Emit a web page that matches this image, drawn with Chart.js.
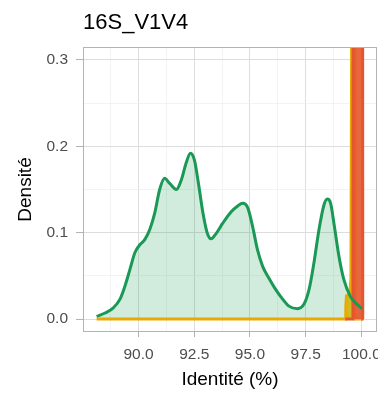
<!DOCTYPE html>
<html>
<head>
<meta charset="utf-8">
<script src="https://cdn.jsdelivr.net/npm/chart.js@4.4.1/dist/chart.umd.min.js"></script>
<style>
  html, body { margin: 0; padding: 0; background: #fff; overflow: hidden; }
  canvas { display: block; }
</style>
</head>
<body>
<canvas id="chart" width="378" height="393" style="width:378px;height:393px"></canvas>
<script>
const plotTitle = '16S_V1V4';

// green density (identity %, density)
const greenIdentite = [88.12, 88.50, 88.87, 89.17, 89.39, 89.61, 89.84, 90.06, 90.28, 90.51,
  90.73, 90.95, 91.17, 91.40, 91.70, 91.92, 92.14, 92.33, 92.51, 92.69,
  92.89, 93.08, 93.26, 93.48, 93.78, 94.15, 94.45, 94.67, 94.90, 95.12,
  95.34, 95.57, 95.86, 96.16, 96.38, 96.75, 97.13, 97.42, 97.65, 97.87,
  98.10, 98.32, 98.47, 98.62, 98.79, 98.99, 99.21, 99.51, 99.81, 100.03];
const greenDensite = [0.003, 0.007, 0.013, 0.023, 0.038, 0.057, 0.077, 0.086, 0.092, 0.104,
  0.123, 0.150, 0.163, 0.157, 0.150, 0.161, 0.181, 0.192, 0.184, 0.157,
  0.123, 0.100, 0.093, 0.099, 0.111, 0.124, 0.131, 0.134, 0.129, 0.107,
  0.080, 0.061, 0.047, 0.034, 0.026, 0.015, 0.012, 0.017, 0.034, 0.065,
  0.104, 0.132, 0.139, 0.134, 0.107, 0.073, 0.046, 0.026, 0.017, 0.012];

// yellow density: flat, small bump, then a spike off the top
const yellowIdentite = [88.12, 99.28, 99.30, 99.33, 99.42, 99.48, 99.53, 99.56, 99.58, 99.66, 99.72, 100.05];
const yellowDensite = [0, 0, 0.014, 0.027, 0.028, 0.031, 0.046, 0.3, 3, 3, 0, 0];

// red density: spike near 100
const redIdentite = [99.28, 99.62, 99.68, 100.02, 100.06, 100.1];
const redDensite = [0, 0, 3, 3, 0, 0];

const xTicks = [88.75, 90, 91.25, 92.5, 93.75, 95, 96.25, 97.5, 98.75, 100];
const yTicks = [0, 0.05, 0.1, 0.15, 0.2, 0.25, 0.3];

const FONT = "'Liberation Sans', Arial, sans-serif";

function pts(xs, ys) {
  return xs.map((x, i) => ({ x: x, y: ys[i] }));
}
function majorX(v) { return Math.abs(v / 2.5 - Math.round(v / 2.5)) < 1e-6; }
function majorY(v) { return Math.abs(v * 10 - Math.round(v * 10)) < 1e-6; }

// panel border + plot title
const panelFrame = {
  id: 'panelFrame',
  afterDatasetsDraw(chart) {
    const { ctx, chartArea: a } = chart;
    ctx.save();
    ctx.strokeStyle = '#B3B3B3';
    ctx.lineWidth = 1;
    ctx.strokeRect(a.left + 0.5, a.top + 0.5, a.right - a.left - 1, a.bottom - a.top - 1);
    ctx.restore();
  },
  afterDraw(chart) {
    const ctx = chart.ctx;
    ctx.save();
    ctx.fillStyle = '#000';
    ctx.font = '22px ' + FONT;
    ctx.textBaseline = 'alphabetic';
    ctx.textAlign = 'left';
    ctx.fillText(plotTitle, chart.chartArea.left, 29);
    ctx.restore();
  }
};

const ctx = document.getElementById('chart').getContext('2d');
const chart = new Chart(ctx, {
  type: 'line',
  data: {
    datasets: [
      {
        // green area only, drawn under everything
        data: pts(greenIdentite, greenDensite),
        borderWidth: 0,
        borderColor: 'rgba(0,0,0,0)',
        backgroundColor: 'rgba(27,154,86,0.2)',
        fill: 'origin',
        pointRadius: 0,
        cubicInterpolationMode: 'monotone',
        order: 4
      },
      {
        data: pts(yellowIdentite, yellowDensite),
        borderWidth: 3,
        borderColor: '#E8AA00',
        backgroundColor: 'rgba(212,176,0,0.85)',
        fill: 'origin',
        pointRadius: 0,
        tension: 0,
        order: 3
      },
      {
        data: pts(redIdentite, redDensite),
        borderWidth: 3,
        borderColor: '#E4572E',
        backgroundColor: 'rgba(230,90,48,0.92)',
        fill: 'origin',
        pointRadius: 0,
        tension: 0,
        order: 2
      },
      {
        // green outline on top
        data: pts(greenIdentite, greenDensite),
        borderWidth: 3,
        borderColor: '#1A9856',
        fill: false,
        pointRadius: 0,
        cubicInterpolationMode: 'monotone',
        order: 1
      }
    ]
  },
  options: {
    responsive: false,
    animation: false,
    events: [],
    layout: { padding: { top: 47, right: 1, left: 0, bottom: 0 } },
    plugins: {
      legend: { display: false },
      tooltip: { enabled: false }
    },
    scales: {
      x: {
        type: 'linear',
        min: 87.51,
        max: 100.7,
        afterBuildTicks: s => { s.ticks = xTicks.map(v => ({ value: v })); },
        afterFit: s => { s.height = 61; s.paddingLeft = 0; s.paddingRight = 0; },
        ticks: {
          autoSkip: false,
          maxRotation: 0,
          padding: 8,
          color: '#4D4D4D',
          font: { family: FONT, size: 15.5 },
          callback: v => majorX(v) ? v.toFixed(1) : ''
        },
        grid: {
          color: c => majorX(c.tick.value) ? '#DDDDDD' : '#EEEEEE',
          lineWidth: c => majorX(c.tick.value) ? 1 : 0.7,
          tickColor: c => majorX(c.tick.value) ? '#B3B3B3' : 'rgba(0,0,0,0)',
          tickLength: 5,
          tickWidth: 1
        },
        border: { display: false },
        title: {
          display: true,
          text: 'Identité (%)',
          color: '#000',
          font: { family: FONT, size: 19 },
          padding: { top: 0, bottom: 2 }
        }
      },
      y: {
        type: 'linear',
        min: -0.015,
        max: 0.315,
        afterBuildTicks: s => { s.ticks = yTicks.map(v => ({ value: v })); },
        afterFit: s => { s.width = 83; s.paddingTop = 0; s.paddingBottom = 0; },
        ticks: {
          autoSkip: false,
          padding: 8,
          color: '#4D4D4D',
          font: { family: FONT, size: 15.5 },
          callback: v => majorY(v) ? v.toFixed(1) : ''
        },
        grid: {
          color: c => majorY(c.tick.value) ? '#DDDDDD' : '#EEEEEE',
          lineWidth: c => majorY(c.tick.value) ? 1 : 0.7,
          tickColor: c => majorY(c.tick.value) ? '#B3B3B3' : 'rgba(0,0,0,0)',
          tickLength: 7,
          tickWidth: 1
        },
        border: { display: false },
        title: {
          display: true,
          text: 'Densité',
          color: '#000',
          font: { family: FONT, size: 19 },
          padding: { top: 14, bottom: 0 }
        }
      }
    }
  },
  plugins: [panelFrame]
});
</script>
</body>
</html>
